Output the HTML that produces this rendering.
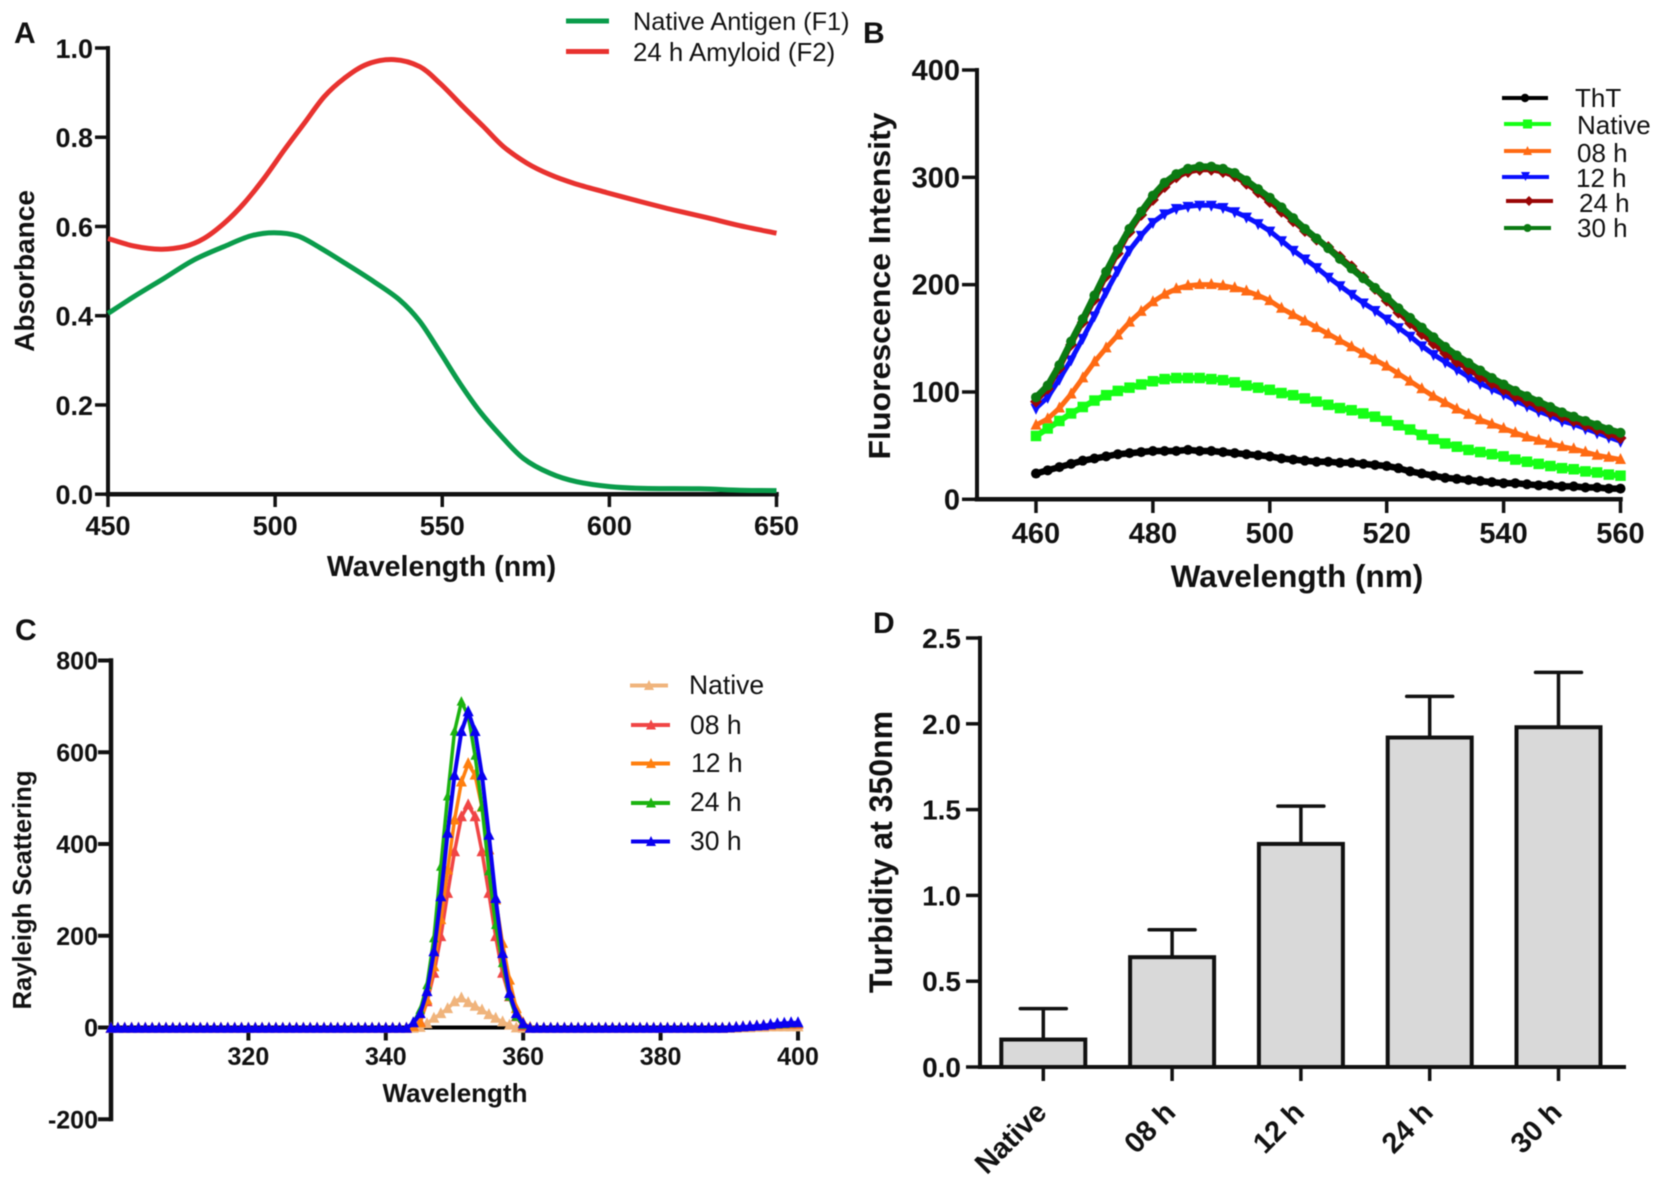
<!DOCTYPE html>
<html lang="en">
<head>
<meta charset="utf-8">
<title>Amyloid characterization panels</title>
<style>
html,body{margin:0;padding:0;background:#fff;}
svg{display:block;font-family:"Liberation Sans",sans-serif;filter:blur(0.4px);}
text{fill:#111;}
</style>
</head>
<body>
<svg id="figure" xmlns="http://www.w3.org/2000/svg" width="1660" height="1183" viewBox="0 0 1660 1183">
  <rect width="1660" height="1183" fill="#fff"/>

  <g id="panel-a"></g>
  <g id="panel-b"></g>
  <g id="panel-c"></g>
  <g id="panel-d"></g>

  <text x="14" y="43" font-size="30" font-weight="700">A</text>
  <text x="863" y="43" font-size="30" font-weight="700">B</text>
  <text x="15" y="640" font-size="30" font-weight="700">C</text>
  <text x="873" y="633" font-size="30" font-weight="700">D</text>

  <text x="441.5" y="576" font-size="28.6" font-weight="700" text-anchor="middle">Wavelength (nm)</text>
  <text transform="translate(34 271) rotate(-90)" font-size="28" font-weight="700" text-anchor="middle">Absorbance</text>
  <text x="1297" y="587" font-size="31.5" font-weight="700" text-anchor="middle">Wavelength (nm)</text>
  <text transform="translate(890 286) rotate(-90)" font-size="31" font-weight="700" text-anchor="middle" textLength="347" lengthAdjust="spacingAndGlyphs">Fluorescence Intensity</text>
  <text x="455" y="1102" font-size="26" font-weight="700" text-anchor="middle">Wavelength</text>
  <text transform="translate(31 890) rotate(-90)" font-size="25.6" font-weight="700" text-anchor="middle">Rayleigh Scattering</text>
  <text transform="translate(892 852) rotate(-90)" font-size="32" font-weight="700" text-anchor="middle">Turbidity at 350nm</text>

  <g id="legend-a">
    <line x1="566" y1="21" x2="609" y2="21" stroke="#0a9c4b" stroke-width="5"/>
    <text x="633" y="30" font-size="25.3">Native Antigen (F1)</text>
    <line x1="566" y1="51.5" x2="609" y2="51.5" stroke="#e8322f" stroke-width="5"/>
    <text x="633" y="61" font-size="25.8">24 h Amyloid (F2)</text>
  </g>

  <g id="legend-b">
    <line x1="1502" y1="98" x2="1548" y2="98" stroke="#000" stroke-width="4"/>
    <circle cx="1525" cy="98" r="4.2" fill="#000"/>
    <text x="1575" y="107" font-size="26">ThT</text>
    <line x1="1504" y1="124" x2="1551" y2="124" stroke="#16ff16" stroke-width="4"/>
    <rect x="1523" y="119.5" width="9" height="9" fill="#16ff16"/>
    <text x="1577" y="134" font-size="26">Native</text>
    <line x1="1504" y1="151" x2="1551" y2="151" stroke="#ff6a13" stroke-width="4"/>
    <polygon points="1527.5,146 1532,155 1523,155" fill="#ff6a13"/>
    <text x="1577" y="162" font-size="26">08 h</text>
    <line x1="1502" y1="177" x2="1549" y2="177" stroke="#0a10ff" stroke-width="4"/>
    <polygon points="1525.5,181 1530,172 1521,172" fill="#0a10ff"/>
    <text x="1576" y="187" font-size="26">12 h</text>
    <line x1="1506" y1="201" x2="1553" y2="201" stroke="#9a0606" stroke-width="4"/>
    <polygon points="1529,196 1534,201 1529,206 1524,201" fill="#9a0606"/>
    <text x="1579" y="212" font-size="26">24 h</text>
    <line x1="1504" y1="228" x2="1551" y2="228" stroke="#0b7a12" stroke-width="4"/>
    <circle cx="1527.5" cy="228" r="4" fill="#0b7a12"/>
    <text x="1577" y="237" font-size="26">30 h</text>
  </g>

  <g id="legend-c">
    <line x1="630" y1="685.5" x2="668" y2="685.5" stroke="#f0b47c" stroke-width="4"/>
    <polygon points="649,680 654,690 644,690" fill="#f0b47c"/>
    <text x="689" y="694" font-size="26.5">Native</text>
    <line x1="631" y1="725" x2="670" y2="725" stroke="#f04545" stroke-width="4"/>
    <polygon points="651,719.5 656,729.5 646,729.5" fill="#f04545"/>
    <text x="690" y="734" font-size="26.5">08 h</text>
    <line x1="631" y1="763.5" x2="670" y2="763.5" stroke="#ff7f0e" stroke-width="4"/>
    <polygon points="651,758 656,768 646,768" fill="#ff7f0e"/>
    <text x="691" y="772" font-size="26.5">12 h</text>
    <line x1="631" y1="803" x2="670" y2="803" stroke="#1bb30f" stroke-width="4"/>
    <polygon points="651,797.5 656,807.5 646,807.5" fill="#1bb30f"/>
    <text x="690" y="811" font-size="26.5">24 h</text>
    <line x1="631" y1="841.5" x2="670" y2="841.5" stroke="#0a00f0" stroke-width="4"/>
    <polygon points="651,836 656,846 646,846" fill="#0a00f0"/>
    <text x="690" y="850" font-size="26.5">30 h</text>
  </g>
</svg>

<script>
/* ---------- Panel A data ---------- */
const aNativeNm = [450,457.8,466.8,475.7,484.7,492.7,499.7,506.7,513.7,521.7,529.6,537.3,543.3,549.3,555.3,561.3,567.3,574.3,582.2,590.2,600.2,610.2,627,639,650];
const aNativeAbs = [0.405,0.443,0.484,0.525,0.555,0.579,0.586,0.579,0.551,0.514,0.476,0.435,0.387,0.319,0.248,0.185,0.133,0.080,0.047,0.028,0.017,0.013,0.012,0.009,0.008];
const aAmyloidNm = [450,457.8,465.8,472.8,478.7,484.7,490.7,496.7,502.7,508.7,514.7,520.7,527.6,535.6,543.3,549.3,556.3,562.3,568.3,575.3,582.3,589.3,599.2,609.2,619.2,629.1,638.9,650];
const aAmyloidAbs = [0.573,0.556,0.549,0.555,0.573,0.607,0.652,0.708,0.771,0.831,0.891,0.932,0.964,0.974,0.958,0.921,0.868,0.824,0.779,0.742,0.716,0.697,0.676,0.656,0.637,0.620,0.602,0.585];
const aXTicks = [450,500,550,600,650];
const aYTicks = [0,0.2,0.4,0.6,0.8,1.0];
const aYTickLabels = ["0.0","0.2","0.4","0.6","0.8","1.0"];

/* ---------- Panel B data ---------- */
const bNm = [460,462,464,466,468,470,472,474,476,478,480,482,484,486,488,490,492,494,496,498,500,502,504,506,508,510,512,514,516,518,520,522,524,526,528,530,532,534,536,538,540,542,544,546,548,550,552,554,556,558,560];
const bTht = [24,27,30,33,36,38,40,42,43,44,45,45,45,46,45,45,44,43,42,41,40,38,37,36,35,35,34,34,33,32,31,29,26,24,22,20,19,18,17,16,15,15,14,13,13,12,12,11,11,10,10];
const bNative = [59,66,73,80,86,92,97,101,104,107,110,112,113,113,113,112,111,109,106,104,102,99,97,94,91,88,85,83,80,77,73,69,65,60,56,52,49,46,44,42,40,37,35,33,31,29,28,26,25,23,22];
const b08h = [69,75,85,98,113,128,141,153,165,175,184,191,196,199,200,200,199,197,194,190,185,178,172,166,160,154,148,142,136,130,124,117,110,103,96,90,84,79,74,70,66,62,58,55,52,49,47,44,41,39,37];
const b12h = [85,95,112,130,150,171,193,213,232,246,258,266,271,273,274,274,272,268,263,257,250,241,232,224,216,207,199,191,183,176,168,160,152,143,135,128,121,114,108,103,98,92,87,82,78,73,70,66,62,58,54];
const b24h = [91,103,122,144,165,186,208,229,249,265,279,291,300,305,307,307,305,301,294,286,277,268,259,250,242,235,226,217,207,196,185,174,164,154,145,136,128,121,114,108,102,96,91,86,81,77,73,69,65,61,57];
const b30h = [95,106,125,147,168,190,212,233,252,268,283,295,303,308,310,310,308,304,297,289,281,272,262,252,243,234,224,215,206,197,188,178,169,160,151,142,134,127,120,113,107,101,96,91,86,81,77,73,69,65,62];
const bXTicks = [460,480,500,520,540,560];
const bYTicks = [0,100,200,300,400];

/* ---------- Panel C data ---------- */
const cNm = [
300,301,302,303,304,305,306,307,308,309,
310,311,312,313,314,315,316,317,318,319,
320,321,322,323,324,325,326,327,328,329,
330,331,332,333,334,335,336,337,338,339,
340,341,342,343,344,345,346,347,348,349,
350,351,352,353,354,355,356,357,358,359,
360,361,362,363,364,365,366,367,368,369,
370,371,372,373,374,375,376,377,378,379,
380,381,382,383,384,385,386,387,388,389,
390,391,392,393,394,395,396,397,398,399,
400];
const cBlank = [
0,0,0,0,0,0,0,0,0,0,
0,0,0,0,0,0,0,0,0,0,
0,0,0,0,0,0,0,0,0,0,
0,0,0,0,0,0,0,0,0,0,
0,0,0,0,0,0,0,0,0,0,
0,0,0,0,0,0,0,0,0,0,
0,0,0,0,0,0,0,0,0,0,
0,0,0,0,0,0,0,0,0,0,
0,0,0,0,0,0,0,0,0,0,
0,0,0,0,0,0,0,0,0,0,
0];
const cNative = [
-2,-2,-2,-2,-2,-2,-2,-2,-2,-2,
-2,-2,-2,-2,-2,-2,-2,-2,-2,-2,
-2,-2,-2,-2,-2,-2,-2,-2,-2,-2,
-2,-2,-2,-2,-2,-2,-2,-2,-2,-2,
-2,-2,-2,-2,-2,0,8,20,30,41,
56,64,54,46,38,28,20,12,5,-1,
-2,-2,-2,-2,-2,-2,-2,-2,-2,-2,
-2,-2,-2,-2,-2,-2,-2,-2,-2,-2,
-2,-2,-2,-2,-2,-2,-2,-2,-2,-2,
-2,-2,-1,-1,0,0,1,1,1,1,
1];
const c08h = [
-2,-2,-2,-2,-2,-2,-2,-2,-2,-2,
-2,-2,-2,-2,-2,-2,-2,-2,-2,-2,
-2,-2,-2,-2,-2,-2,-2,-2,-2,-2,
-2,-2,-2,-2,-2,-2,-2,-2,-2,-2,
-2,-2,-2,-2,2,12,56,118,198,292,
383,459,485,459,383,292,198,118,67,23,
3,-2,-2,-2,-2,-2,-2,-2,-2,-2,
-2,-2,-2,-2,-2,-2,-2,-2,-2,-2,
-2,-2,-2,-2,-2,-2,-2,-2,-2,-2,
-1,0,1,2,3,4,5,6,7,7,
7];
const c12h = [
-2,-2,-2,-2,-2,-2,-2,-2,-2,-2,
-2,-2,-2,-2,-2,-2,-2,-2,-2,-2,
-2,-2,-2,-2,-2,-2,-2,-2,-2,-2,
-2,-2,-2,-2,-2,-2,-2,-2,-2,-2,
-2,-2,-2,-2,2,10,60,132,235,343,
452,535,575,550,480,387,278,183,103,41,
10,0,-2,-2,-2,-2,-2,-2,-2,-2,
-2,-2,-2,-2,-2,-2,-2,-2,-2,-2,
-2,-2,-2,-2,-2,-2,-2,-2,-2,-2,
-1,0,1,2,3,4,5,6,7,8,
8];
const c24h = [
-2,-2,-2,-2,-2,-2,-2,-2,-2,-2,
-2,-2,-2,-2,-2,-2,-2,-2,-2,-2,
-2,-2,-2,-2,-2,-2,-2,-2,-2,-2,
-2,-2,-2,-2,-2,-2,-2,-2,-2,-2,
-2,-2,-2,-2,10,38,92,194,350,503,
645,710,680,592,480,340,223,140,67,23,
5,-2,-2,-2,-2,-2,-2,-2,-2,-2,
-2,-2,-2,-2,-2,-2,-2,-2,-2,-2,
-2,-2,-2,-2,-2,-2,-2,-2,-2,-2,
-1,0,1,2,3,4,5,6,7,8,
9];
const c30h = [
-2,-2,-2,-2,-2,-2,-2,-2,-2,-2,
-2,-2,-2,-2,-2,-2,-2,-2,-2,-2,
-2,-2,-2,-2,-2,-2,-2,-2,-2,-2,
-2,-2,-2,-2,-2,-2,-2,-2,-2,-2,
-2,-2,-2,-2,10,30,78,165,285,423,
549,645,688,645,549,419,281,161,74,30,
8,-2,-2,-2,-2,-2,-2,-2,-2,-2,
-2,-2,-2,-2,-2,-2,-2,-2,-2,-2,
-2,-2,-2,-2,-2,-2,-2,-2,-2,-2,
-1,0,1,2,3,4,6,8,9,10,
10];
const cXTicks = [320,340,360,380,400];
const cYTicks = [-200,0,200,400,600,800];

/* ---------- Panel D data ---------- */
const dCategories = ["Native","08 h","12 h","24 h","30 h"];
const dMeans = [0.16,0.64,1.30,1.92,1.98];
const dErrorTops = [0.34,0.80,1.52,2.16,2.30];
const dYTicks = [0,0.5,1.0,1.5,2.0,2.5];
const dYTickLabels = ["0.0","0.5","1.0","1.5","2.0","2.5"];

/* ---------- Axis functions ---------- */
function linear(d0,d1,r0,r1){return function(v){return r0+(v-d0)/(d1-d0)*(r1-r0);};}
const axX = linear(450,650,108,776.5);
const ayY = linear(0,1,494.2,48);
const bxX = linear(460,560,1036,1620.5);
const byY = linear(0,400,499.3,70);
const cxX = linear(300,400,111,798);
const cyY = linear(0,800,1027.5,660.5);
const dxX = function(i){return 1043.3+i*128.8;};
const dyY = linear(0,2.5,1067,638);

const NS = "http://www.w3.org/2000/svg";
function svgEl(tag,attrs){
  const e = document.createElementNS(NS,tag);
  for(const k in attrs){e.setAttribute(k,attrs[k]);}
  return e;
}
function smoothPath(xs,ys){
  let d = "M"+xs[0].toFixed(1)+" "+ys[0].toFixed(1);
  for(let i=0;i<xs.length-1;i++){
    const p0=Math.max(i-1,0),p2=i+1,p3=Math.min(i+2,xs.length-1);
    const c1x=xs[i]+(xs[p2]-xs[p0])/6,c1y=ys[i]+(ys[p2]-ys[p0])/6;
    const c2x=xs[p2]-(xs[p3]-xs[i])/6,c2y=ys[p2]-(ys[p3]-ys[i])/6;
    d+=" C"+c1x.toFixed(1)+" "+c1y.toFixed(1)+" "+c2x.toFixed(1)+" "+c2y.toFixed(1)+" "+xs[p2].toFixed(1)+" "+ys[p2].toFixed(1);
  }
  return d;
}
function polyPath(xs,ys){
  const n = Math.min(xs.length,ys.length);
  let d = "";
  for(let i=0;i<n;i++){d+=(i?" L":"M")+xs[i].toFixed(1)+" "+ys[i].toFixed(1);}
  return d;
}
function markerEl(shape,x,y,s,color){
  if(shape==="circle"){return svgEl("circle",{cx:x,cy:y,r:s/2,fill:color});}
  if(shape==="square"){return svgEl("rect",{x:x-s/2,y:y-s/2,width:s,height:s,fill:color});}
  let pts;
  if(shape==="up"){pts=[[x,y-s*0.6],[x+s/2,y+s*0.4],[x-s/2,y+s*0.4]];}
  else if(shape==="down"){pts=[[x,y+s*0.6],[x+s/2,y-s*0.4],[x-s/2,y-s*0.4]];}
  else {pts=[[x,y-s*0.6],[x+s*0.6,y],[x,y+s*0.6],[x-s*0.6,y]];}
  return svgEl("polygon",{points:pts.map(function(p){return p[0].toFixed(1)+","+p[1].toFixed(1);}).join(" "),fill:color});
}
function drawAxisLine(g,x1,y1,x2,y2,w){
  const l = svgEl("line",{x1:x1,y1:y1,x2:x2,y2:y2,stroke:"#111","stroke-width":w,"stroke-linecap":"square"});
  
  
  g.appendChild(l);
}
function drawXTick(g,x,y0,len,w,label,baseline,size){
  const t = svgEl("line",{x1:x,y1:y0,x2:x,y2:y0+len,stroke:"#111","stroke-width":w});
  
  
  g.appendChild(t);
  if(label===null){return;}
  const s = svgEl("text",{x:x,y:baseline,"font-size":size,"font-weight":700,"text-anchor":"middle"});
  s.textContent = label;
  
  
  g.appendChild(s);
}
function drawYTick(g,x0,y,len,w,label,right,size,dy){
  const t = svgEl("line",{x1:x0-len,y1:y,x2:x0,y2:y,stroke:"#111","stroke-width":w});
  
  
  g.appendChild(t);
  const s = svgEl("text",{x:right,y:y+dy,"font-size":size,"font-weight":700,"text-anchor":"end"});
  s.textContent = label;
  
  
  g.appendChild(s);
}
function drawMarkedSeries(g,name,color,shape,size,lineW,xs,ys){
  const grp = svgEl("g",{});
  
  
  const path = svgEl("path",{d:polyPath(xs,ys),fill:"none",stroke:color,"stroke-width":lineW,"stroke-linejoin":"round"});
  
  
  grp.appendChild(path);
  const n = Math.min(xs.length,ys.length);
  for(let i=0;i<n;i++){
    const m = markerEl(shape,xs[i],ys[i],size,color);
    
    
    grp.appendChild(m);
  }
  g.appendChild(grp);
}

/* ---------- Panel A ---------- */
(function(){
  const g = document.getElementById("panel-a");
  drawAxisLine(g,axX(450),ayY(1),axX(450),ayY(0),4);
  drawAxisLine(g,axX(450),ayY(0),axX(650),ayY(0),4.5);
  aXTicks.forEach(function(v){drawXTick(g,axX(v),494,13,3.5,String(v),535,27);});
  aYTicks.forEach(function(v,i){drawYTick(g,axX(450),ayY(v),13,3.5,aYTickLabels[i],93,27,10);});
  const green = svgEl("path",{d:smoothPath(aNativeNm.map(axX),aNativeAbs.map(ayY)),fill:"none",stroke:"#0a9c4b","stroke-width":5});
  
  
  g.appendChild(green);
  const red = svgEl("path",{d:smoothPath(aAmyloidNm.map(axX),aAmyloidAbs.map(ayY)),fill:"none",stroke:"#e8322f","stroke-width":5});
  
  
  g.appendChild(red);
})();

/* ---------- Panel B ---------- */
(function(){
  const g = document.getElementById("panel-b");
  drawAxisLine(g,977,byY(400),977,byY(0),4);
  drawAxisLine(g,977,byY(0),bxX(560),byY(0),4.5);
  bXTicks.forEach(function(v){drawXTick(g,bxX(v),499,14,3.5,String(v),543,29);});
  bYTicks.forEach(function(v){drawYTick(g,977,byY(v),15,3.5,String(v),960,29,10);});
  const xs = bNm.map(bxX);
  drawMarkedSeries(g,"tht-series","#000","circle",10,6.5,xs,bTht.map(byY));
  drawMarkedSeries(g,"native-series","#16ff16","square",10.5,6,xs,bNative.map(byY));
  drawMarkedSeries(g,"08h-series","#ff6a13","up",11,5,xs,b08h.map(byY));
  drawMarkedSeries(g,"12h-series","#0a10ff","down",11,5,xs,b12h.map(byY));
  drawMarkedSeries(g,"24h-series","#9a0606","diamond",10,5,xs,b24h.map(byY));
  drawMarkedSeries(g,"30h-series","#0b7a12","circle",10,6.5,xs,b30h.map(byY));
})();

/* ---------- Panel C ---------- */
(function(){
  const g = document.getElementById("panel-c");
  drawAxisLine(g,111,660.5,111,1119,4.5);
  drawAxisLine(g,111,1027.5,798,1027.5,4);
  cXTicks.forEach(function(v){drawXTick(g,cxX(v),1027.5,13,4,String(v),1065,25);});
  cYTicks.forEach(function(v){drawYTick(g,111,cyY(v),13,4,String(v),98,25,9);});
  const xs = cNm.map(cxX);
  const black = svgEl("path",{d:polyPath(xs,cBlank.map(cyY)),fill:"none",stroke:"#000","stroke-width":4});
  
  
  g.appendChild(black);
  drawMarkedSeries(g,"native-series","#f0b47c","up",11,3.5,xs,cNative.map(cyY));
  drawMarkedSeries(g,"08h-series","#f04545","up",11,3.5,xs,c08h.map(cyY));
  drawMarkedSeries(g,"12h-series","#ff7f0e","up",11,3.5,xs,c12h.map(cyY));
  drawMarkedSeries(g,"24h-series","#1bb30f","up",9.5,3.5,xs,c24h.map(cyY));
  drawMarkedSeries(g,"30h-series","#0a00f0","up",11,4,xs,c30h.map(cyY));
})();

/* ---------- Panel D ---------- */
(function(){
  const g = document.getElementById("panel-d");
  dCategories.forEach(function(name,i){
    const cx = dxX(i);
    const yMean = dyY(dMeans[i]);
    const yTop = dyY(dErrorTops[i]);
    const stem = svgEl("line",{x1:cx,y1:yMean,x2:cx,y2:yTop,stroke:"#111","stroke-width":3.5});
    
    
    g.appendChild(stem);
    const cap = svgEl("line",{x1:cx-23,y1:yTop,x2:cx+23,y2:yTop,stroke:"#111","stroke-width":3.5,"stroke-linecap":"round"});
    
    
    g.appendChild(cap);
    const bar = svgEl("rect",{x:cx-42,y:yMean,width:84,height:dyY(0)-yMean,fill:"#d9d9d9",stroke:"#111","stroke-width":4});
    
    
    g.appendChild(bar);
    drawXTick(g,cx,1067,14,3.5,null,0,0);
    const label = svgEl("text",{transform:"translate("+(cx+5)+" 1114) rotate(-45)","font-size":29,"font-weight":700,"text-anchor":"end"});
    label.textContent = name;
    
    
    g.appendChild(label);
  });
  drawAxisLine(g,980,638,980,1067,4);
  drawAxisLine(g,980,1067,1624,1067,4);
  dYTicks.forEach(function(v,i){drawYTick(g,980,dyY(v),14,3.5,dYTickLabels[i],961,28,10);});
})();
</script>
</body>
</html>
